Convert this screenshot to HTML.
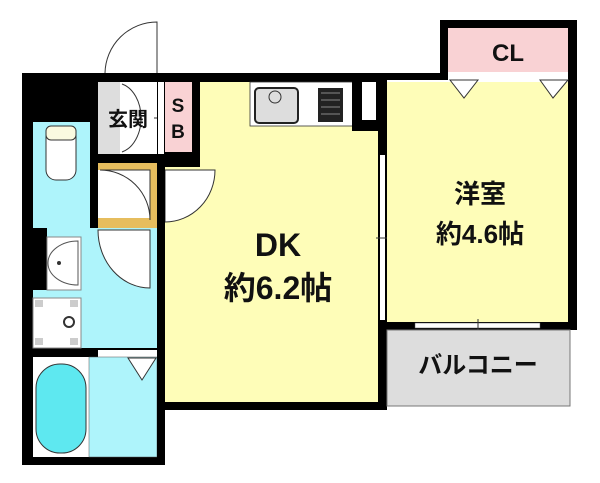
<!DOCTYPE html><html><head><style>body{margin:0;background:#fff}svg{display:block}text{font-family:"Liberation Sans","Noto Sans CJK JP",sans-serif;font-weight:bold;fill:#111}</style></head><body>
<svg width="600" height="483" viewBox="0 0 600 483" xmlns="http://www.w3.org/2000/svg">
<path d="M157 73 L157 22 A52 52 0 0 0 105 73" fill="#fff" stroke="#333" stroke-width="1"/>
<rect x="22" y="73" width="143" height="392" fill="#000"/>
<rect x="33" y="122" width="57" height="106" fill="#aef4fb"/>
<rect x="46" y="126" width="30" height="54" rx="10" fill="#fff" stroke="#333"/>
<rect x="46" y="126" width="30" height="14" rx="5" fill="#fafae0" stroke="#333"/>
<rect x="98" y="82" width="59" height="72" fill="#fff"/>
<rect x="98" y="82" width="22" height="72" fill="#ddd"/>
<path d="M122 84 A25 35 0 0 1 122 152" fill="none" stroke="#333"/>
<line x1="154" y1="118" x2="158" y2="118" stroke="#333"/>
<rect x="98" y="163" width="59" height="65" fill="#e6bd5e"/>
<rect x="98" y="170" width="52" height="48" fill="#fff"/>
<path d="M100 170 A50 50 0 0 1 150 220 L150 170 Z" fill="#fff" stroke="#333"/>
<rect x="33" y="228" width="124" height="120" fill="#aef4fb"/>
<rect x="33" y="228" width="14" height="62" fill="#000"/>
<rect x="47" y="237" width="34" height="53" fill="#fff" stroke="#888"/>
<path d="M78 241 A30 22 0 0 0 78 285 Z" fill="#fff" stroke="#555"/>
<circle cx="59" cy="263" r="2" fill="#333"/>
<rect x="33" y="298" width="48" height="50" fill="#fff" stroke="#888"/>
<rect x="35" y="300" width="8" height="7" fill="#ccc"/><rect x="70" y="300" width="8" height="7" fill="#ccc"/>
<rect x="35" y="338" width="8" height="7" fill="#ccc"/><rect x="70" y="338" width="8" height="7" fill="#ccc"/>
<circle cx="69" cy="322" r="5" fill="#fff" stroke="#333" stroke-width="2"/>
<path d="M98 230 A52 58 0 0 0 150 288 L150 230 Z" fill="#fff" stroke="#333"/>
<rect x="98" y="350" width="59" height="7" fill="#fff"/>
<rect x="33" y="357" width="56" height="100" fill="#fff"/>
<rect x="36" y="364" width="50" height="89" rx="24" fill="#5ee8f0" stroke="#333"/>
<rect x="89" y="357" width="68" height="100" fill="#aef4fb" stroke="#555" stroke-width="0.5"/>
<path d="M128 358 L156 358 L142 380 Z" fill="#fff" stroke="#333"/>
<rect x="157" y="73" width="230" height="9" fill="#000"/>
<text x="128" y="126" font-size="20" text-anchor="middle">玄関</text>
<rect x="165" y="82" width="213" height="320" fill="#fefdb8"/>
<rect x="157" y="82" width="43" height="85" fill="#000"/>
<rect x="158" y="82" width="6" height="72" fill="#fff"/>
<rect x="165" y="82" width="27" height="70" fill="#f9d2d4"/>
<text x="178" y="112" font-size="19" text-anchor="middle">S</text>
<text x="178" y="138" font-size="19" text-anchor="middle">B</text>
<path d="M165 170 L165 222 A50 52 0 0 0 215 170 Z" fill="#fff" stroke="#333"/>
<rect x="157" y="167" width="8" height="298" fill="#000"/>
<rect x="157" y="402" width="230" height="8" fill="#000"/>
<rect x="250" y="82" width="103" height="44" fill="#fff" stroke="#333" stroke-width="0.8"/>
<rect x="255" y="88" width="43" height="35" rx="4" fill="#ddd" stroke="#222" stroke-width="2"/>
<circle cx="275" cy="97" r="6" fill="#ddd" stroke="#333"/>
<rect x="318" y="88" width="25" height="34" fill="#222"/>
<path d="M321 93h19M321 100h19M321 107h19M321 114h19" stroke="#888"/>
<rect x="352" y="73" width="35" height="58" fill="#000"/>
<rect x="362" y="82" width="14" height="38" fill="#fff"/>
<rect x="378" y="73" width="9" height="337" fill="#000"/>
<rect x="380" y="155" width="5" height="165" fill="#fff"/>
<line x1="376" y1="238" x2="389" y2="238" stroke="#333"/>
<text x="278" y="256" font-size="32" text-anchor="middle">DK</text>
<text x="278" y="299" font-size="32" text-anchor="middle">約6.2帖</text>
<rect x="440" y="20" width="137" height="310" fill="#000"/>
<rect x="387" y="73" width="53" height="9" fill="#000"/>
<rect x="448" y="28" width="120" height="44" fill="#f9d2d4"/>
<rect x="448" y="72" width="120" height="8" fill="#fff"/>
<text x="508" y="61" font-size="24" text-anchor="middle">CL</text>
<rect x="387" y="82" width="181" height="240" fill="#fefdb8"/>
<rect x="387" y="80" width="181" height="2" fill="#fff"/>
<path d="M450 80 L478 80 L464 98 Z" fill="#fff" stroke="#333"/>
<path d="M540 80 L568 80 L553 98 Z" fill="#fff" stroke="#333"/>
<rect x="387" y="322" width="190" height="8" fill="#000"/>
<rect x="415" y="323" width="125" height="5" fill="#fff" stroke="#555" stroke-width="0.5"/>
<line x1="478" y1="319" x2="478" y2="333" stroke="#333"/>
<text x="480" y="203" font-size="26" text-anchor="middle">洋室</text>
<text x="480" y="243" font-size="26" text-anchor="middle">約4.6帖</text>
<rect x="387" y="330" width="183" height="76" fill="#ddd" stroke="#777" stroke-width="1"/>
<text x="478" y="373" font-size="24" text-anchor="middle">バルコニー</text>
</svg></body></html>
